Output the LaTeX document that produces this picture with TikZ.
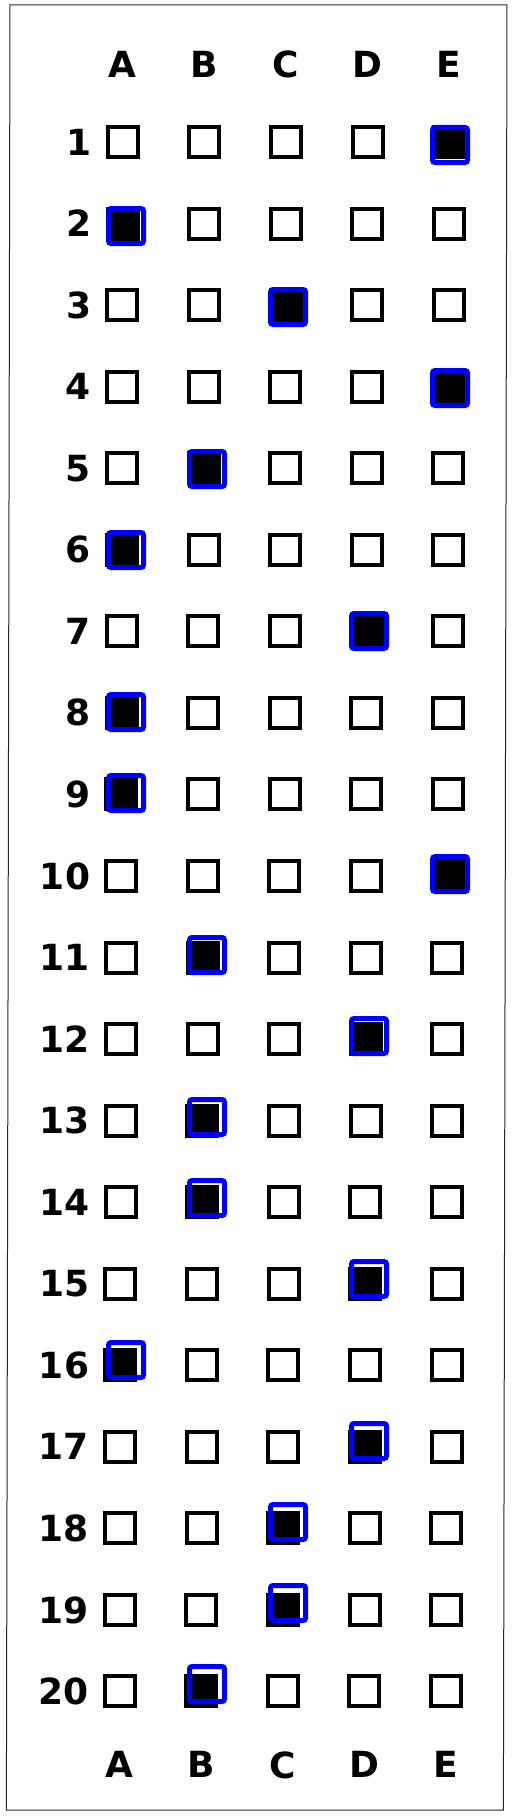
\documentclass[tikz,border=0pt]{standalone}
\usepackage{fontspec}
\setmainfont{DejaVu Sans}
\usetikzlibrary{positioning}
\tikzset{%
	choice/.style = {draw, rectangle, line width=4pt, minimum size=30pt, inner sep=0pt}, % empty box
	filled/.style = {choice, fill=black}, % blackened box
	hit/.style    = {draw=blue, rectangle, line width=5pt, rounded corners=2.5pt, minimum size=35pt, inner sep=0pt}, % blue marker
	letter/.style = {font=\bfseries\fontsize{36}{36}\selectfont, inner sep=0pt}, % column head
	number/.style = {font=\bfseries\fontsize{36}{36}\selectfont, inner sep=0pt}, % row number
	frame/.style  = {draw=black!85, line width=1pt},
}

\begin{document}
\begin{tikzpicture}[x=1pt,y=-1pt]
	\useasboundingbox (0,0) rectangle (514,1817);
	\begin{scope}[xslant=0.002]
	\draw[frame] (10,5) rectangle (507,1810);
	% the grid of boxes
	\foreach \r in {1,...,20}{
		\foreach \c in {1,...,5}{
			\node [choice] (b\r-\c) at ({123+81.6*(\c-1)},{142+81.55*(\r-1)}) {};
		}
		\node [number,left=14pt of b\r-1] (n\r) {\r};
	}
	\foreach \c/\t in {1/A,2/B,3/C,4/D,5/E}{
		\node [letter,above=47pt of b1-\c] (top\c) {\t};
		\node [letter,below=43pt of b20-\c] (bot\c) {\t};
	}
	% blackened answers
	\foreach \r/\c in {1/5,2/1,3/3,4/5,5/2,6/1,7/4,8/1,9/1,10/5,11/2,12/4,13/2,14/2,15/4,16/1,17/4,18/3,19/3,20/2}
		\node [filled] at (b\r-\c) {};
	\end{scope}
	% blue markers
	\foreach \r/\c in {1/5,2/1,3/3,4/5,5/2,6/1,7/4,8/1,9/1,10/5,11/2,12/4,13/2,14/2,15/4,16/1,17/4,18/3,19/3,20/2}
		\node [hit] (h\r) at ({126+81*(\c-1)},{145+81*(\r-1)}) {};
\end{tikzpicture}
\end{document}
